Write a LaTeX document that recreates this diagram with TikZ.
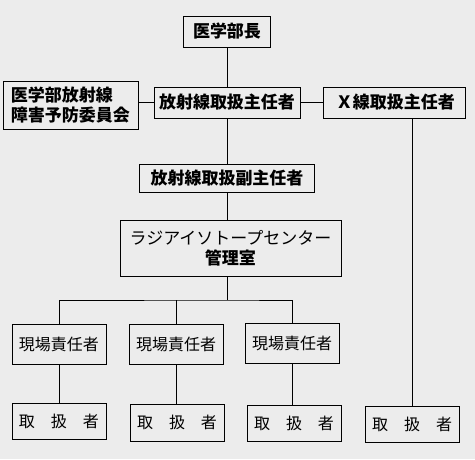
\documentclass[tikz,border=0pt]{standalone}
\usepackage{fontspec}
\setmainfont{Noto Sans CJK JP}
\usepackage{tikz}
\usetikzlibrary{positioning, calc}
\definecolor{bggray}{RGB}{236, 236, 236}
\tikzstyle{post} = [rectangle, draw=black, fill=bggray, line width=0.8pt, inner sep=0pt,
                    text centered, font=\fontsize{17}{20}\selectfont\bfseries]
\tikzstyle{staff} = [rectangle, draw=black, fill=bggray, line width=0.8pt, inner sep=0pt,
                     text centered, minimum width=94pt, font=\fontsize{16}{19}\selectfont]
\tikzstyle{link} = [line width=0.8pt, black]

\begin{document}
\begin{tikzpicture}[x=1pt, y=-1pt]

% Background
\fill[bggray] (0,0) rectangle (475,459);

% Top of the chart
\node[post, minimum width=87pt, minimum height=31pt] (head) at (227,31.5) {医学部長};
\node[post, minimum width=146pt, minimum height=31pt] (chief) at (227,102.5) {放射線取扱主任者};
\node[post, minimum width=135pt, minimum height=48pt, align=left] (cmte) at (70.5,105)
  {医学部放射線\\障害予防委員会};
\node[post, minimum width=142pt, minimum height=31pt] (xray) at (394,102.5) {\,Ｘ線取扱主任者};
\node[post, minimum width=175pt, minimum height=28pt] (sub) at (227,178) {放射線取扱副主任者};
\node[post, minimum width=221pt, minimum height=56pt, align=center] (ric) at (230.5,248)
  {{\mdseries ラジアイソトープセンター}\\管理室};

% Field staff
\node[staff, minimum height=40pt] (g1) at (59,344) {現場責任者};
\node[staff, minimum height=40pt] (g2) at (176,344) {現場責任者};
\node[staff, minimum height=40pt] (g3) at (292,343) {現場責任者};
\node[staff, minimum height=36pt] (w1) at (59,421) {取　扱　者};
\node[staff, minimum height=37pt] (w2) at (177,422.5) {取　扱　者};
\node[staff, minimum height=36pt] (w3) at (294,423) {取　扱　者};
\node[staff, minimum height=36pt] (w4) at (412,424) {取　扱　者};

\coordinate (split) at (227,300);

% Lines
\draw[link] (head) -- (chief);
\draw[link] (chief) -- (sub);
\draw[link] (chief.west) -- (chief.west -| cmte.east);
\draw[link] (chief.east) -- (xray.west);
\draw[link] (sub.south) -- (sub.south |- ric.north);
\draw[link] (ric.south -| split) -- (split);
\draw[link] (g1) |- (split) -| (g3);
\draw[link] (split -| g2) -- (g2);
\foreach \i in {1,2,3}
  \draw[link] (g\i.south) -- (g\i.south |- w\i.north);
\draw[link] (w4.north) -- (w4.north |- xray.south);

\end{tikzpicture}
\end{document}
